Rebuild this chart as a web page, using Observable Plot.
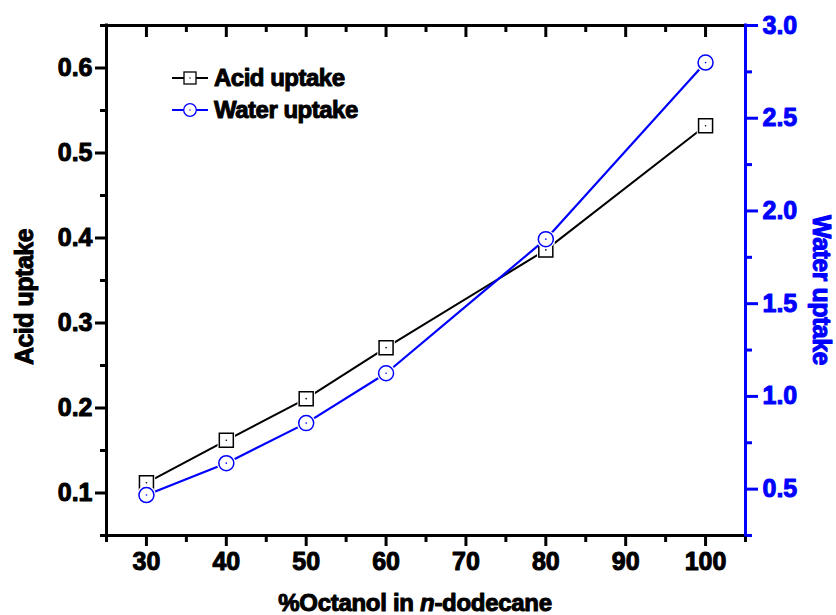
<!DOCTYPE html>
<html>
<head>
<meta charset="utf-8">
<script src="https://cdn.jsdelivr.net/npm/d3@7"></script>
<script src="https://cdn.jsdelivr.net/npm/@observablehq/plot@0.6"></script>
<style>
  html, body { margin: 0; padding: 0; background: #fff; }
</style>
</head>
<body>
<div id="chart"></div>
<script>
// ---- data ----
const octanol = [30, 40, 50, 60, 80, 100];
const acidUptake = [0.112, 0.162, 0.211, 0.271, 0.386, 0.532];
const waterUptake = [0.468, 0.640, 0.856, 1.125, 1.848, 2.800];

// ---- ticks / domains ----
const xDomain = [25, 105];
const xMajorTicks = [30, 40, 50, 60, 70, 80, 90, 100];
const xMinorTicks = [25, 35, 45, 55, 65, 75, 85, 95, 105];
const acidDomain = [0.05, 0.65];
const acidMajorTicks = [0.1, 0.2, 0.3, 0.4, 0.5, 0.6];
const acidMinorTicks = [0.05, 0.15, 0.25, 0.35, 0.45, 0.55, 0.65];
const waterDomain = [0.25, 3.0];
const waterMajorTicks = [0.5, 1.0, 1.5, 2.0, 2.5, 3.0];
const waterMinorTicks = [0.25, 0.75, 1.25, 1.75, 2.25, 2.75];

const seriesNames = ["Acid uptake", "Water uptake"];
const xTitle = ["%Octanol in ", "n", "-dodecane"];

const BLUE = "#0000ff";
const BLACK = "#000000";
const FONT = "'Liberation Sans', Arial, sans-serif";

const W = 836, H = 615, ML = 106, MR = 91, MT = 25, MB = 80;
const frameH = H - MT - MB;

// map water values onto the acid (left) scale so both share one y scale
const toAcid = w => acidDomain[0] + (w - waterDomain[0]) * (acidDomain[1] - acidDomain[0]) / (waterDomain[1] - waterDomain[0]);
const fromAcid = a => waterDomain[0] + (a - acidDomain[0]) * (waterDomain[1] - waterDomain[0]) / (acidDomain[1] - acidDomain[0]);

const acidData = octanol.map((x, i) => ({x, y: acidUptake[i]}));
const waterData = octanol.map((x, i) => ({x, y: toAcid(waterUptake[i])}));

const SQ = Math.sqrt(Math.PI); // square side = r * sqrt(pi)

const chart = Plot.plot({
  width: W,
  height: H,
  marginLeft: ML,
  marginRight: MR,
  marginTop: MT,
  marginBottom: MB,
  x: {domain: xDomain},
  y: {domain: acidDomain},
  style: {fontFamily: FONT, fontWeight: "bold", fontSize: "25px", background: "#fff", color: BLACK, overflow: "visible"},
  marks: [
    // bottom axis
    Plot.axisX(xMajorTicks, {anchor: "bottom", tickSize: 11, tickPadding: 6, strokeWidth: 3, label: null, fontSize: 25, tickFormat: d => String(d)}),
    Plot.axisX(xMinorTicks, {anchor: "bottom", tickSize: 7, strokeWidth: 3, label: null, tickFormat: () => ""}),
    // top axis (inward ticks)
    Plot.tickX(xMajorTicks, {x: d => d, stroke: BLACK, strokeWidth: 3, insetBottom: frameH - 12}),
    Plot.tickX(xMinorTicks.slice(1, -1), {x: d => d, stroke: BLACK, strokeWidth: 3, insetBottom: frameH - 7}),
    // left axis
    Plot.axisY(acidMajorTicks, {anchor: "left", tickSize: 11, tickPadding: 3, strokeWidth: 3, label: null, fontSize: 25, tickFormat: d => d.toFixed(1)}),
    Plot.axisY(acidMinorTicks, {anchor: "left", tickSize: 6, strokeWidth: 3, label: null, tickFormat: () => ""}),
    // right axis (water, blue)
    Plot.axisY(waterMajorTicks.map(toAcid), {anchor: "right", tickSize: 12, tickPadding: 5, strokeWidth: 3, color: BLUE, label: null, fontSize: 25, tickFormat: d => fromAcid(d).toFixed(1)}),
    Plot.axisY(waterMinorTicks.map(toAcid), {anchor: "right", tickSize: 6, strokeWidth: 3, color: BLUE, label: null, tickFormat: () => ""}),
    // frame lines
    Plot.ruleY([acidDomain[0], acidDomain[1]], {stroke: BLACK, strokeWidth: 3, strokeLinecap: "square"}),
    Plot.ruleX([xDomain[0]], {stroke: BLACK, strokeWidth: 3, strokeLinecap: "square"}),
    Plot.ruleX([xDomain[1]], {stroke: BLUE, strokeWidth: 3, strokeLinecap: "square"}),
    // acid series
    Plot.line(acidData, {x: "x", y: "y", stroke: BLACK, strokeWidth: 2}),
    Plot.dot(acidData, {x: "x", y: "y", symbol: "square", r: 17.5 / SQ, fill: "#fff", stroke: null}),
    Plot.dot(acidData, {x: "x", y: "y", symbol: "square", r: 14 / SQ, fill: "#fff", stroke: BLACK, strokeWidth: 1.5}),
    Plot.dot(acidData, {x: "x", y: "y", r: 0.8, fill: BLACK, stroke: null}),
    // water series
    Plot.line(waterData, {x: "x", y: "y", stroke: BLUE, strokeWidth: 2.2}),
    Plot.dot(waterData, {x: "x", y: "y", r: 9.5, fill: "#fff", stroke: null}),
    Plot.dot(waterData, {x: "x", y: "y", r: 7.5, fill: "#fff", stroke: BLUE, strokeWidth: 1.5}),
    Plot.dot(waterData, {x: "x", y: "y", r: 0.8, fill: BLUE, stroke: null})
  ]
});

const svg = d3.select(chart);

// axis titles
svg.append("text")
  .attr("transform", "translate(33,297) rotate(-90)")
  .attr("text-anchor", "middle")
  .attr("font-size", 25).attr("font-weight", "bold").attr("fill", BLACK)
  .attr("letter-spacing", -0.5)
  .text(seriesNames[0]);

svg.append("text")
  .attr("transform", "translate(813,290) rotate(90)")
  .attr("text-anchor", "middle")
  .attr("font-size", 25).attr("font-weight", "bold").attr("fill", BLUE)
  .attr("letter-spacing", -0.5)
  .text(seriesNames[1]);

const xt = svg.append("text")
  .attr("x", 415).attr("y", 611)
  .attr("text-anchor", "middle")
  .attr("font-size", 24).attr("font-weight", "bold").attr("fill", BLACK)
  .attr("letter-spacing", -0.3);
xt.append("tspan").text(xTitle[0]);
xt.append("tspan").attr("font-style", "italic").text(xTitle[1]);
xt.append("tspan").text(xTitle[2]);

// legend
const legend = svg.append("g");
const items = [
  {name: seriesNames[0], color: BLACK, y: 78, shape: "square"},
  {name: seriesNames[1], color: BLUE, y: 110, shape: "circle"}
];
items.forEach(it => {
  legend.append("line").attr("x1", 172).attr("x2", 208).attr("y1", it.y).attr("y2", it.y)
    .attr("stroke", it.color).attr("stroke-width", 2);
  if (it.shape === "square") {
    legend.append("rect").attr("x", 184).attr("y", it.y - 6).attr("width", 12).attr("height", 12)
      .attr("fill", "#fff").attr("stroke", it.color).attr("stroke-width", 1.3);
  } else {
    legend.append("circle").attr("cx", 190).attr("cy", it.y).attr("r", 6.3)
      .attr("fill", "#fff").attr("stroke", it.color).attr("stroke-width", 1.3);
  }
  legend.append("circle").attr("cx", 190).attr("cy", it.y).attr("r", 0.7).attr("fill", it.color);
  legend.append("text").attr("x", 214).attr("y", it.y + 8)
    .attr("text-anchor", "start")
    .attr("font-size", 24).attr("font-weight", "bold").attr("fill", BLACK)
    .attr("letter-spacing", -0.5)
    .text(it.name);
});

document.getElementById("chart").appendChild(chart);

// heavier glyphs, like the reference rendering
svg.selectAll("text").each(function () {
  const f = getComputedStyle(this).fill;
  this.style.stroke = f;
  this.style.strokeWidth = "1px";
  this.style.strokeLinejoin = "round";
});
</script>
</body>
</html>
